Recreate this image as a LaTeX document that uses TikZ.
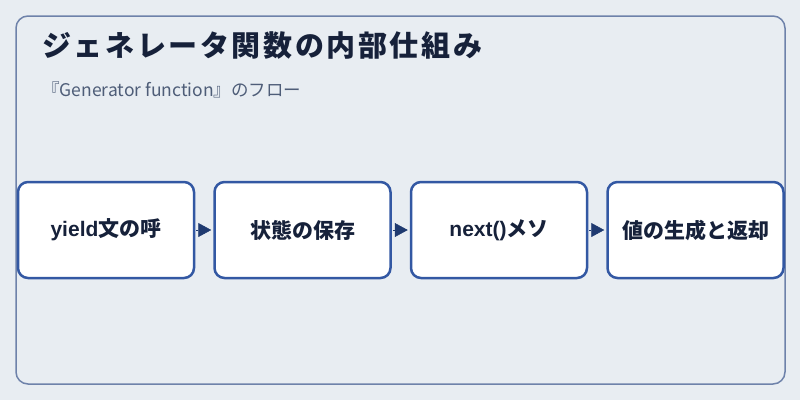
\documentclass[tikz,border=0pt]{standalone}
\usepackage{fontspec}
\setmainfont{Noto Sans CJK JP}
\newfontfamily\latinfont{Liberation Sans}
\usepackage{xcolor}
\usetikzlibrary{positioning,arrows.meta}
\definecolor{bgcol}{HTML}{E8EDF2}
\definecolor{panelline}{HTML}{6E82AA}
\definecolor{boxline}{HTML}{3358A3}
\definecolor{arrowcol}{HTML}{1F3A70}
\definecolor{titlecol}{HTML}{16213A}
\definecolor{subcol}{HTML}{4E5D78}
\begin{document}
\begin{tikzpicture}[x=1pt, y=-1pt, node distance={18pt},
    stepbox/.style = {draw=boxline, line width=2.5pt, fill=white, rounded corners=10pt,
        minimum width=176pt, minimum height=96pt, inner sep=0pt,
        font=\fontsize{21}{24}\selectfont\bfseries, text=titlecol},
    flow/.style = {-{Triangle[length=13pt,width=14pt]}, arrowcol, line width=0.5pt, shorten <=1pt, shorten >=2pt}]
        \useasboundingbox[fill=bgcol] (0,0) rectangle (800,400);
        \draw[panelline, line width=1.5pt, rounded corners=12pt] (16,16) rectangle (785,384);
        \node[anchor=base west, text=titlecol, font=\fontsize{29}{32}\selectfont\bfseries\addfontfeatures{LetterSpace=9}, inner sep=0pt] (title) at (42,56) {ジェネレータ関数の内部仕組み};
        \node[anchor=base west, text=subcol, font=\fontsize{17.5}{20}\selectfont, inner sep=0pt] (sub) at (42,96) {『Generator function』のフロー};

        \node[stepbox] (Y) at (106,230) {{\latinfont yield}文の呼};
        \node[stepbox] (S) [right = of Y] {状態の保存};
        \node[stepbox] (N) [right = of S] {{\latinfont next()}メソ};
        \node[stepbox] (V) [right = of N] {値の生成と返却};

        \draw[flow] (Y) -- (S);
        \draw[flow] (S) -- (N);
        \draw[flow] (N) -- (V);
    \end{tikzpicture}
\end{document}
